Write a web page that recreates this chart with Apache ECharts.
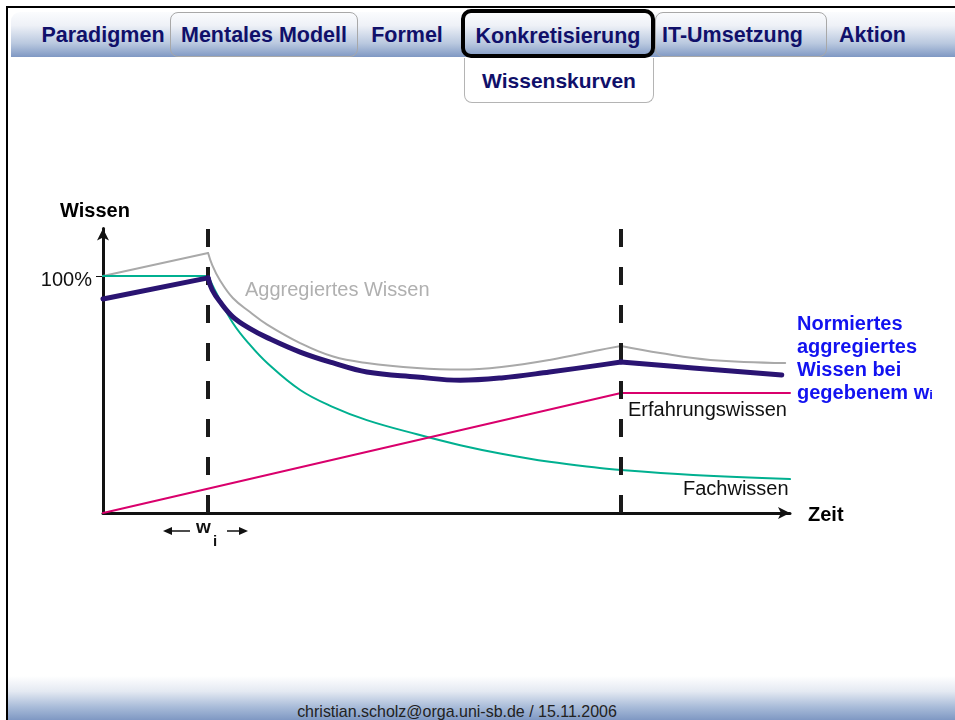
<!DOCTYPE html>
<html>
<head>
<meta charset="utf-8">
<script src="https://cdn.jsdelivr.net/npm/echarts@6/dist/echarts.min.js"></script>
<style>
  html, body { margin: 0; padding: 0; background: #fff; }
  body { width: 955px; height: 720px; position: relative; overflow: hidden; font-family: "Liberation Sans", Arial, sans-serif; }
  .frame { position: absolute; left: 6px; top: 6px; width: 960px; height: 720px; border-left: 2px solid #000; border-top: 2px solid #000; }
  .navbar { position: absolute; left: 11px; top: 12px; width: 960px; height: 45px; border-radius: 9px 0 0 0;
    background: linear-gradient(#fbfcfe 0%, #eef1f7 30%, #b9c8df 70%, #7f98c3 100%); }
  .tab { position: absolute; top: 12px; height: 45px; line-height: 47px; text-align: center; font-weight: bold; font-size: 21.5px; color: #10106a; box-sizing: border-box; white-space: nowrap; }
  .tab.boxed { border: 1px solid #a8a8a8; border-radius: 8px; line-height: 45px; }
  .tab.active { top: 9px; height: 49px; line-height: 47px; border: 4px solid #000; border-radius: 10px; }
  .sub { position: absolute; left: 464px; top: 58px; width: 190px; height: 45px; line-height: 46px; box-sizing: border-box; border: 1px solid #b4b4b4; border-top: none; border-radius: 0 0 8px 8px; background: #fff; text-align: center; font-weight: bold; font-size: 21px; color: #10106a; }
  .footer { position: absolute; left: 8px; top: 676px; width: 960px; height: 44px; background: linear-gradient(#ffffff 0%, #e4e9f2 35%, #a9bcd9 70%, #7f98c3 100%); }
  .footer span { position: absolute; left: 0; width: 898px; top: 26px; text-align: center; font-size: 17px; color: #222; transform: scaleX(0.94); }
  #chart { position: absolute; left: 0; top: 0; width: 955px; height: 720px; }
  .note { position: absolute; left: 797px; top: 312px; font-weight: bold; font-size: 20px; line-height: 23px; color: #1212f0; white-space: nowrap; }
  .note small { font-size: 13px; }
</style>
</head>
<body>
<div class="navbar"></div>
<div class="frame"></div>
<div class="tab" style="left:36px;width:134px;">Paradigmen</div>
<div class="tab boxed" style="left:170px;width:188px;">Mentales Modell</div>
<div class="tab" style="left:362px;width:90px;">Formel</div>
<div class="tab active" style="left:461px;width:194px;">Konkretisierung</div>
<div class="tab boxed" style="left:655px;width:172px;text-align:left;padding-left:6px;">IT-Umsetzung</div>
<div class="tab" style="left:830px;width:85px;">Aktion</div>
<div class="sub">Wissenskurven</div>
<div class="footer"><span>christian.scholz@orga.uni-sb.de / 15.11.2006</span></div>
<div id="chart"></div>
<div class="note">Normiertes<br>aggregiertes<br>Wissen bei<br>gegebenem w<small>i</small></div>
<script>
// phase boundaries on the time axis (dashed lines)
const phaseMarks = [15.3, 75.4]

// Aggregiertes Wissen (grey)
const aggRise = [[0, 100], [15.3, 109.7]]
const aggDecay = [[15.3, 109.7], [15.9, 104.6], [17.0, 98.3], [18.9, 90.7], [21.4, 84.8], [23.9, 79.5],
  [28.7, 71.7], [33.5, 66.0], [38.4, 63.3], [45.7, 61.2], [52.0, 60.5], [58.0, 61.6], [65.0, 64.6],
  [72.3, 68.8], [75.4, 70.5]]
const aggTail = [[75.4, 70.5], [81.1, 67.5], [88.4, 64.6], [99.3, 63.3]]

// Fachwissen (teal)
const fachRise = [[0, 100], [15.3, 100]]
const fachDecay = [[15.3, 100], [16.5, 92.8], [18.9, 80.2], [21.4, 70.9], [23.9, 63.3], [28.7, 51.9],
  [33.5, 44.7], [38.4, 39.2], [45.7, 33.2], [52.0, 28.6], [58.0, 25.0], [65.0, 21.6], [72.3, 19.0],
  [75.4, 18.1]]
const fachTail = [[75.4, 18.1], [85.9, 16.0], [100, 14.3]]

// Erfahrungswissen (magenta)
const erfahrung = [[0, 0], [75.4, 50.6], [100, 50.6]]

// Normiertes aggregiertes Wissen (thick indigo)
const normRise = [[0, 90.3], [15.3, 99.2]]
const normDecay = [[15.3, 99.2], [15.9, 94.1], [17.0, 89.2], [18.9, 82.8], [21.4, 77.8], [23.9, 74.0],
  [28.7, 67.9], [33.5, 63.3], [38.4, 59.5], [45.7, 57.4], [52.0, 56.0], [58.0, 57.0], [65.0, 59.5],
  [72.3, 62.4], [75.4, 63.7]]
const normTail = [[75.4, 63.7], [85.9, 61.2], [98.8, 58.2]]

const yTicks = [100]

const GREY = '#a9a9a9'
const TEAL = '#00b090'
const MAGENTA = '#d9006c'
const INDIGO = '#2a1472'

const chart = echarts.init(document.getElementById('chart'))

function seg(data, color, width, smooth, z) {
  return {
    type: 'line',
    data,
    smooth,
    showSymbol: false,
    silent: true,
    z,
    lineStyle: { color, width, cap: 'round', join: 'round' }
  }
}

const series = [
  seg(aggRise, GREY, 2, false, 2),
  seg(aggDecay, GREY, 2, 0.4, 2),
  seg(aggTail, GREY, 2, 0.4, 2),
  seg(fachRise, TEAL, 2, false, 3),
  seg(fachDecay, TEAL, 2, 0.4, 3),
  seg(fachTail, TEAL, 2, 0.4, 3),
  seg(erfahrung, MAGENTA, 2, false, 4),
  seg(normRise, INDIGO, 5, false, 5),
  seg(normDecay, INDIGO, 5, 0.4, 5),
  seg(normTail, INDIGO, 5, 0.4, 5),
  {
    type: 'line',
    data: [],
    z: 10,
    markLine: {
      silent: true,
      symbol: 'none',
      label: { show: false },
      lineStyle: { color: '#1a1a1a', width: 4, type: [18, 20] },
      data: phaseMarks.map((x) => ({ xAxis: x }))
    }
  }
]

const labelFont = '"Liberation Sans", Arial, sans-serif'

chart.setOption({
  animation: false,
  grid: { left: 103, right: 165, top: 228.6, bottom: 207 },
  xAxis: {
    type: 'value',
    min: 0,
    max: 100,
    axisLine: {
      show: true,
      symbol: ['none', 'arrow'],
      symbolSize: [9, 12],
      lineStyle: { color: '#111', width: 3 }
    },
    axisTick: { show: false },
    axisLabel: { show: false },
    splitLine: { show: false }
  },
  yAxis: {
    type: 'value',
    min: 0,
    max: 120,
    axisLine: {
      show: true,
      symbol: ['none', 'arrow'],
      symbolSize: [9, 12],
      lineStyle: { color: '#111', width: 3 }
    },
    axisTick: { show: true, customValues: yTicks, length: 7, lineStyle: { color: '#111', width: 1 } },
    axisLabel: {
      show: true,
      customValues: yTicks,
      formatter: '{value}%',
      color: '#111',
      fontSize: 20,
      fontFamily: labelFont,
      margin: 11,
      verticalAlign: 'top',
      lineHeight: 20,
      padding: [-6, 0, 0, 0]
    },
    splitLine: { show: false }
  },
  series,
  graphic: [
    { type: 'text', left: 60, top: 201, style: { text: 'Wissen', font: 'bold 20px ' + labelFont, fill: '#000' } },
    { type: 'text', left: 808, top: 505, style: { text: 'Zeit', font: 'bold 20px ' + labelFont, fill: '#000' } },
    { type: 'text', left: 245, top: 280, style: { text: 'Aggregiertes Wissen', font: '20px ' + labelFont, fill: '#b0b0b0' } },
    { type: 'text', left: 628, top: 400, style: { text: 'Erfahrungswissen', font: '20px ' + labelFont, fill: '#111' } },
    { type: 'text', left: 683, top: 479, style: { text: 'Fachwissen', font: '20px ' + labelFont, fill: '#111' } },
    // w_i span marker below the axis
    { type: 'line', shape: { x1: 166, y1: 531, x2: 190, y2: 531 }, style: { stroke: '#111', lineWidth: 1.5 } },
    { type: 'polygon', shape: { points: [[163, 531], [172, 527], [172, 535]] }, style: { fill: '#111' } },
    { type: 'line', shape: { x1: 227, y1: 531, x2: 244, y2: 531 }, style: { stroke: '#111', lineWidth: 1.5 } },
    { type: 'polygon', shape: { points: [[248, 531], [239, 527], [239, 535]] }, style: { fill: '#111' } },
    { type: 'text', left: 196, top: 518, style: { text: 'w', font: 'bold 19px ' + labelFont, fill: '#111' } },
    { type: 'text', left: 213, top: 534, style: { text: 'i', font: 'bold 15px ' + labelFont, fill: '#111' } }
  ]
})
</script>
</body>
</html>
